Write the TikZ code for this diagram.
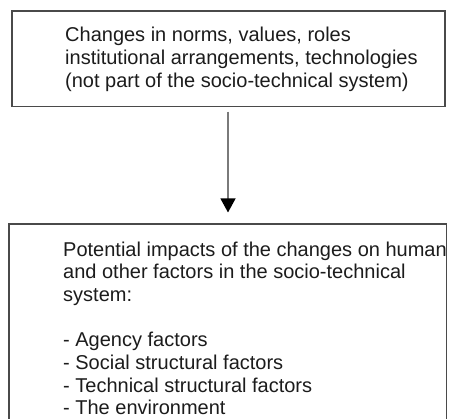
\documentclass[tikz,border=0pt]{standalone}
\usepackage{fontspec}
\setmainfont{Liberation Sans}
\usetikzlibrary{arrows.meta}
\definecolor{edge}{HTML}{4A4A4A}
\definecolor{shaft}{HTML}{7A7A7A}
\definecolor{ink}{HTML}{1C1C1C}
\tikzset{
  framebox/.style={draw=edge, line width=1.1pt, inner sep=0pt},
  boxtext/.style={anchor=north west, inner sep=0pt, align=left, text=ink,
    font=\fontsize{20}{22.7}\selectfont},
  flow/.style={draw=shaft, line width=1.3pt,
    -{Triangle[width=15pt,length=14pt,color=black]}}
}
\begin{document}
\begin{tikzpicture}[x=1pt,y=-1pt]
  \useasboundingbox (0,0) rectangle (457,419);
  \clip (0,0) rectangle (457,419);
  \fill[white] (0,0) rectangle (457,419);

  % upper box: the outside changes
  \node[framebox, minimum width=433pt, minimum height=95.7pt] (cause) at (228.5,58.85) {};
  \node[boxtext] (causetext) at (65,27.1)
    {Changes in norms, values, roles\\
     institutional arrangements, technologies\\
     (not part of the socio-technical system)};

  % lower box: the impacts, runs past the bottom edge
  \node[framebox, minimum width=437.7pt, minimum height=201pt] (impact) at (227.85,324.5) {};
  \node[boxtext] (impacttext) at (63,241.4)
    {Potential impacts of the changes on human\\
     and other factors in the socio-technical\\
     system:\\[22.7pt]
     - Agency factors\\
     - Social structural factors\\
     - Technical structural factors\\
     - The environment};

  % connector between the two boxes
  \draw[flow, shorten <=4.3pt, shorten >=11pt]
    ([xshift=-0.5pt]cause.south) -- ([xshift=-0.5pt]cause.south |- impact.north);
\end{tikzpicture}
\end{document}
